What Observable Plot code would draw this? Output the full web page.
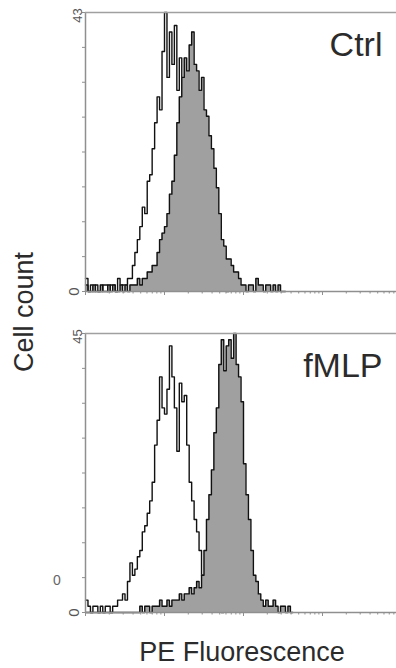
<!DOCTYPE html>
<html><head><meta charset="utf-8">
<script src="https://cdn.jsdelivr.net/npm/d3@7"></script>
<script src="https://cdn.jsdelivr.net/npm/@observablehq/plot@0.6"></script>
<style>
html,body{margin:0;padding:0;background:#fff;overflow:hidden;}
#wrap{position:relative;width:396px;height:668px;font-family:"Liberation Sans",Arial,sans-serif;overflow:hidden;}
#top,#bottom{position:absolute;left:0;}
#top{top:0px;}
#bottom{top:321px;}
.ylab{position:absolute;left:24px;top:312px;transform:translate(-50%,-50%) rotate(-90deg);font-size:27px;line-height:27px;color:#2b2b2b;white-space:nowrap;}
.xlab{position:absolute;left:242px;top:639px;transform:translateX(-50%);font-size:27px;line-height:27px;color:#2b2b2b;white-space:nowrap;}
.stray{position:absolute;left:57px;top:580px;transform:translate(-50%,-50%);font-size:14px;line-height:14px;color:#666;}
</style>
</head><body>
<div id="wrap">
  <div id="top"></div>
  <div id="bottom"></div>
  <div class="ylab">Cell count</div>
  <div class="xlab">PE Fluorescence</div>
  <div class="stray">0</div>
</div>
<script>
// ---- data: histogram counts per channel (32 channels per decade, log10 fluorescence 10^0..10^4)
const channelsPerDecade = 32;
const decades = 4;
const panelLabels = ["Ctrl", "fMLP"];
const yMaxLabels = [43, 45];

const ctrlIso = [2,0,1,0,1,0,0,1,1,0,1,1,0,2,1,1,
  1,2,2,4,6,8,10,13,12,17,18,22,26,30,28,37,43,33,40,35,41,31,36,28,30,24,22,18,15,12,10,8,6,5,4,3,2,2,1,1,1,0];
const ctrlPE = [1,0,0,1,0,0,1,0,0,1,0,1,0,0,1,0,1,0,1,1,
  1,2,1,2,2,3,3,4,4,6,8,9,10,12,15,17,21,26,30,33,36,34,38,40,35,34,31,33,28,27,24,22,19,16,12,8,7,5,5,4,3,3,2,1,1,
  0,1,1,0,2,1,1,0,1,1,0,1,0,1,0,0];
const fmlpIso = [2,1,0,1,1,0,1,0,1,1,0,1,1,2,
  2,3,2,5,8,6,7,9,10,13,14,16,18,21,27,31,38,33,32,36,43,38,33,26,37,34,35,27,21,18,15,13,10,6,4,3,2,2,1,1,1,0];
const fmlpPE = [0,0,0,0,0,0,0,0,0,0,0,0,0,0,0,0,0,0,0,0,0,0,
  1,0,1,1,0,1,1,1,2,1,1,2,1,2,2,2,3,2,3,3,4,3,4,5,4,6,10,15,19,23,29,33,40,44,39,43,44,41,45,40,38,34,24,19,15,10,6,5,3,2,1,
  2,1,1,2,1,0,1,1,0,1,0];

function table(counts){
  const t = counts.map((c,i)=>({x: i/channelsPerDecade, y: c}));
  t.push({x: counts.length/channelsPerDecade, y: 0});
  return t;
}
const majorTicks = d3.range(0, decades+1);
const minorTicks = [];
for (let d=0; d<decades; d++) for (let k=2; k<10; k++) minorTicks.push(d + Math.log10(k));

const axisGray = "#8f8f8f";
function panel(iso, pe, ymax, label){
  return Plot.plot({
    width: 396, height: 300,
    marginLeft: 85, marginRight: 0, marginTop: 12, marginBottom: 9,
    x: {domain: [0, decades], range: [85, 401]},
    y: {domain: [0, ymax]},
    style: {background: "transparent", overflow: "visible", fontFamily: "'Liberation Sans', Arial, sans-serif"},
    marks: [
      Plot.lineY(table(iso), {x: "x", y: "y", curve: "step-after", stroke: "#111", strokeWidth: 1.4}),
      Plot.areaY(table(pe), {x: "x", y: "y", curve: "step-after", fill: "#a0a0a0"}),
      Plot.lineY(table(pe), {x: "x", y: "y", curve: "step-after", stroke: "#111", strokeWidth: 1.4}),
      Plot.ruleX([0], {stroke: axisGray, strokeWidth: 1.5}),
      Plot.ruleY([0], {stroke: axisGray, strokeWidth: 1.5}),
      Plot.ruleY([ymax], {stroke: "#a0a0a0", strokeWidth: 1.5}),
      Plot.axisY({ticks: d3.range(9).map(k => k*ymax/8), tickSize: 3, tickFormat: () => "", stroke: axisGray, label: null}),
      Plot.axisX({ticks: minorTicks, tickSize: 2.5, tickFormat: () => "", stroke: axisGray, label: null}),
      Plot.axisX({ticks: majorTicks, tickSize: 4, tickFormat: () => "", stroke: axisGray, label: null}),
      Plot.text([ymax], {y: d => d, text: d => String(d), frameAnchor: "left", dx: -8, dy: 3, rotate: -90, textAnchor: "middle", lineAnchor: "middle", fill: "#555", fontSize: 13}),
      Plot.text([0], {y: d => d, text: d => String(d), frameAnchor: "left", dx: -11, rotate: -90, textAnchor: "middle", lineAnchor: "middle", fill: "#555", fontSize: 15}),
      Plot.text([label], {frameAnchor: "top-right", dx: -14, dy: 19, fontSize: 34, fill: "#2b2b2b", textAnchor: "end"})
    ]
  });
}
document.getElementById("top").append(panel(ctrlIso, ctrlPE, yMaxLabels[0], panelLabels[0]));
document.getElementById("bottom").append(panel(fmlpIso, fmlpPE, yMaxLabels[1], panelLabels[1]));
</script>
</body></html>
